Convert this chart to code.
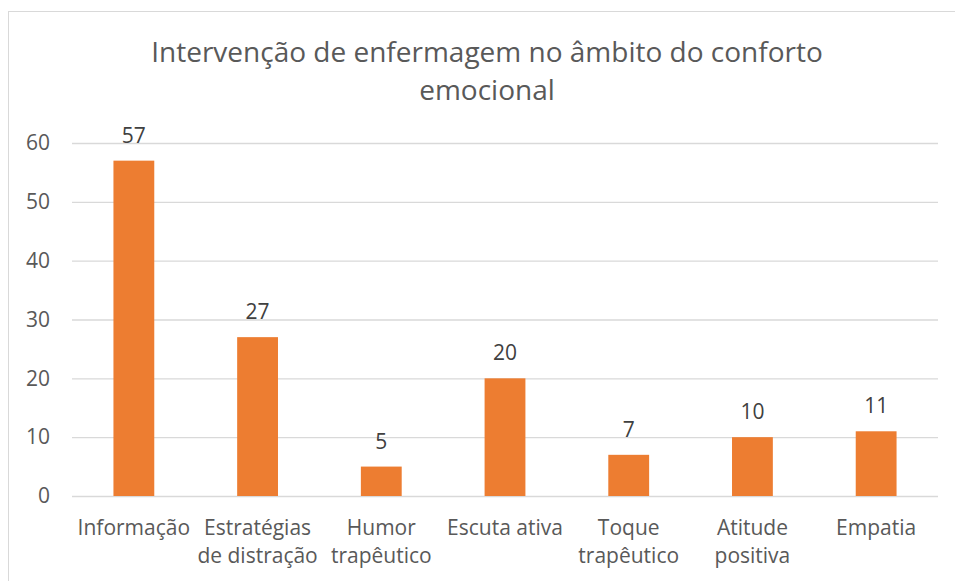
<!DOCTYPE html>
<html lang="pt">
  <head>
    <meta charset="UTF-8" />
    <title>Intervenção de enfermagem no âmbito do conforto emocional</title>
    <script src="https://d3js.org/d3.v7.min.js"></script>
    <style>
      body {
        margin: 0;
        background: #fff;
        font-family: 'Open Sans', sans-serif;
      }
    </style>
  </head>
  <body>
    <div id="chart"></div>
    <script>
      // data
      const categories = [
        ['Informação'],
        ['Estratégias', 'de distração'],
        ['Humor', 'trapêutico'],
        ['Escuta ativa'],
        ['Toque', 'trapêutico'],
        ['Atitude', 'positiva'],
        ['Empatia'],
      ];
      const values = [57, 27, 5, 20, 7, 10, 11];
      const yTicks = [0, 10, 20, 30, 40, 50, 60];
      const titleLines = ['Intervenção de enfermagem no âmbito do conforto', 'emocional'];

      const width = 955;
      const height = 581;
      const margin = { top: 143, right: 17, bottom: 85, left: 72 };

      const svg = d3
        .select('#chart')
        .append('svg')
        .attr('width', width)
        .attr('height', height);

      // chart border (cropped on the right and bottom)
      svg
        .append('rect')
        .attr('x', 8.5)
        .attr('y', 11.5)
        .attr('width', 1000)
        .attr('height', 1000)
        .attr('fill', 'none')
        .attr('stroke', '#d9d9d9');

      const x = d3
        .scaleBand()
        .domain(d3.range(categories.length))
        .range([margin.left, width - margin.right])
        .paddingInner(0.67)
        .paddingOuter(0.335);

      const y = d3
        .scaleLinear()
        .domain([0, 60])
        .range([height - margin.bottom, margin.top]);

      // gridlines + y labels
      const yAxis = svg
        .append('g')
        .attr('transform', `translate(${margin.left},0)`)
        .call(
          d3
            .axisLeft(y)
            .tickValues(yTicks)
            .tickSize(-(width - margin.left - margin.right))
            .tickPadding(22)
        );
      yAxis.select('.domain').remove();
      yAxis.selectAll('line').attr('stroke', '#d9d9d9').attr('stroke-width', 1.3);
      yAxis
        .selectAll('text')
        .attr('fill', '#595959')
        .style('font-size', '21px')
        .style('font-family', "'Open Sans', sans-serif");

      // bars
      svg
        .append('g')
        .selectAll('rect')
        .data(values)
        .join('rect')
        .attr('x', (d, i) => x(i))
        .attr('y', (d) => y(d))
        .attr('width', x.bandwidth())
        .attr('height', (d) => y(0) - y(d))
        .attr('fill', '#ed7d31');

      // value labels
      svg
        .append('g')
        .selectAll('text')
        .data(values)
        .join('text')
        .attr('x', (d, i) => x(i) + x.bandwidth() / 2)
        .attr('y', (d) => y(d) - 18)
        .attr('text-anchor', 'middle')
        .attr('fill', '#404040')
        .style('font-size', '21px')
        .text((d) => d);

      // x labels
      const xl = svg
        .append('g')
        .selectAll('text')
        .data(categories)
        .join('text')
        .attr('x', (d, i) => x(i) + x.bandwidth() / 2)
        .attr('y', 535)
        .attr('text-anchor', 'middle')
        .attr('fill', '#595959')
        .style('font-size', '21px');
      xl.selectAll('tspan')
        .data((d) => d)
        .join('tspan')
        .attr('x', function () {
          return this.parentNode.getAttribute('x');
        })
        .attr('dy', (d, i) => (i === 0 ? 0 : 28))
        .text((d) => d);

      // title
      svg
        .append('g')
        .selectAll('text')
        .data(titleLines)
        .join('text')
        .attr('x', 487)
        .attr('y', (d, i) => 62 + i * 38)
        .attr('text-anchor', 'middle')
        .attr('fill', '#595959')
        .style('font-size', '28px')
        .text((d) => d);
    </script>
  </body>
</html>
